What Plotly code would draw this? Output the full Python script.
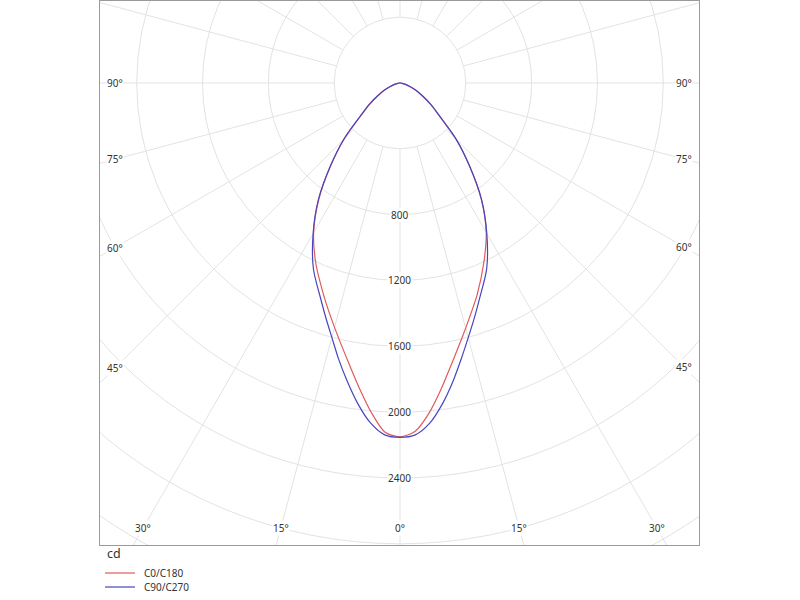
import numpy as np
import plotly.graph_objects as go

# gamma angle from nadir (deg) and luminous intensity (cd) of each C-plane half
gamma = [0, 2.5, 5, 7.5, 10, 12.5, 15, 17.5, 20, 25, 30, 35, 40, 45, 50, 55, 60, 65, 70, 75, 80, 85, 90]
c0 = [2150, 2118, 2015, 1885, 1755, 1642, 1542, 1452, 1370, 1205, 1048, 860, 656, 481, 316, 229, 158, 108, 63, 34, 14, 4, 0]
c180 = [2150, 2122, 2008, 1875, 1748, 1636, 1537, 1447, 1363, 1210, 1050, 858, 655, 480, 315, 228, 158, 108, 63, 34, 14, 4, 0]
c90 = [2153, 2140, 2075, 1968, 1845, 1718, 1602, 1500, 1405, 1246, 1055, 864, 657, 482, 316, 230, 159, 109, 64, 34, 14, 4, 0]
c270 = [2153, 2140, 2072, 1965, 1842, 1720, 1600, 1497, 1403, 1245, 1056, 864, 657, 481, 317, 229, 158, 108, 63, 34, 14, 4, 0]

series_names = ["C0/C180", "C90/C270"]
series_colors = ["#e05a5a", "#4646c0"]

rings = [400, 800, 1200, 1600, 2000, 2400, 2800, 3200]
ring_labels = [800, 1200, 1600, 2000, 2400]
ray_angles = list(range(0, 360, 15))
bottom_labels = [0, 15, 30]
side_labels = [45, 60, 75, 90]

X_RANGE = [-1823, 1817]
Y_RANGE = [-2807, 498]
PX = 0.1646  # px per cd
GRID = "#e3e3e3"
TXT = "#333333"
FONT = "Noto Sans"


def plane_xy(left, right):
    g = np.radians(gamma)
    left = np.array(left, dtype=float)
    right = np.array(right, dtype=float)
    xl, yl = -left * np.sin(g), -left * np.cos(g)
    xr, yr = right * np.sin(g), -right * np.cos(g)
    x = np.concatenate([xl[::-1], xr[1:]])
    y = np.concatenate([yl[::-1], yr[1:]])
    return x, y


fig = go.Figure()

for name, (left, right), color in zip(series_names, [(c180, c0), (c270, c90)], series_colors):
    x, y = plane_xy(left, right)
    fig.add_trace(go.Scatter(x=x, y=y, mode="lines", name=name, showlegend=False,
                             line=dict(color=color, width=1.2, shape="spline", smoothing=0.8)))

shapes = []
for r in rings:
    shapes.append(dict(type="circle", xref="x", yref="y", x0=-r, x1=r, y0=-r, y1=r,
                       line=dict(color=GRID, width=1), layer="below"))
for a in ray_angles:
    t = np.radians(a)
    r0, r1 = rings[0], 6000
    shapes.append(dict(type="line", xref="x", yref="y",
                       x0=r0 * np.sin(t), y0=-r0 * np.cos(t),
                       x1=r1 * np.sin(t), y1=-r1 * np.cos(t),
                       line=dict(color=GRID, width=1), layer="below"))

annotations = []
for r in ring_labels:
    annotations.append(dict(x=0, y=-r, xref="x", yref="y", text=str(r), showarrow=False,
                            bgcolor="white", font=dict(family=FONT, size=10, color=TXT),
                            borderpad=0))

# angle labels sit on their rays just inside the frame
x_in_l = X_RANGE[0] + 15 / PX
x_in_r = X_RANGE[1] - 15 / PX
y_in_b = Y_RANGE[0] + 17 / PX
for a in bottom_labels:
    t = np.radians(a)
    for s in ([1] if a == 0 else [-1, 1]):
        annotations.append(dict(x=s * -y_in_b * np.tan(t), y=y_in_b, xref="x", yref="y",
                                text=f"{a}°", showarrow=False, bgcolor="white", borderpad=0,
                                font=dict(family=FONT, size=10, color=TXT)))
for a in side_labels:
    t = np.radians(a)
    for xv in (x_in_l, x_in_r):
        annotations.append(dict(x=xv, y=-abs(xv) * np.cos(t) / np.sin(t), xref="x", yref="y",
                                text=f"{a}°", showarrow=False, bgcolor="white", borderpad=0,
                                font=dict(family=FONT, size=10, color=TXT)))

# unit label and a compact legend under the frame
annotations.append(dict(x=0, y=0, xref="paper", yref="paper", xanchor="left",
                        yanchor="middle", xshift=5, yshift=-8, text="cd", showarrow=False,
                        font=dict(family=FONT, size=12.5, color=TXT)))
for i, (name, color) in enumerate(zip(series_names, series_colors)):
    dy = -28 - 14 * i
    shapes.append(dict(type="line", xref="paper", yref="paper", xsizemode="pixel",
                       ysizemode="pixel", xanchor=0, yanchor=0, x0=5, x1=35, y0=dy, y1=dy,
                       line=dict(color=color, width=1.2)))
    annotations.append(dict(x=0, y=0, xref="paper", yref="paper", xanchor="left",
                            yanchor="middle", xshift=42, yshift=dy, text=name, showarrow=False,
                            font=dict(family=FONT, size=10, color=TXT)))

fig.update_layout(
    width=800, height=600,
    margin=dict(l=100, r=101, t=1, b=55),
    paper_bgcolor="white", plot_bgcolor="white",
    shapes=shapes, annotations=annotations,
    showlegend=False,
    font=dict(family=FONT),
)
fig.update_xaxes(range=X_RANGE, showgrid=False, zeroline=False, showticklabels=False,
                 ticks="", showline=True, linecolor="#9a9a9a", linewidth=1, mirror=True)
fig.update_yaxes(range=Y_RANGE, showgrid=False, zeroline=False, showticklabels=False,
                 ticks="", showline=True, linecolor="#9a9a9a", linewidth=1, mirror=True)

fig.write_html("out.html", config={"displayModeBar": False},
               post_script="document.body.style.margin='0px';")
